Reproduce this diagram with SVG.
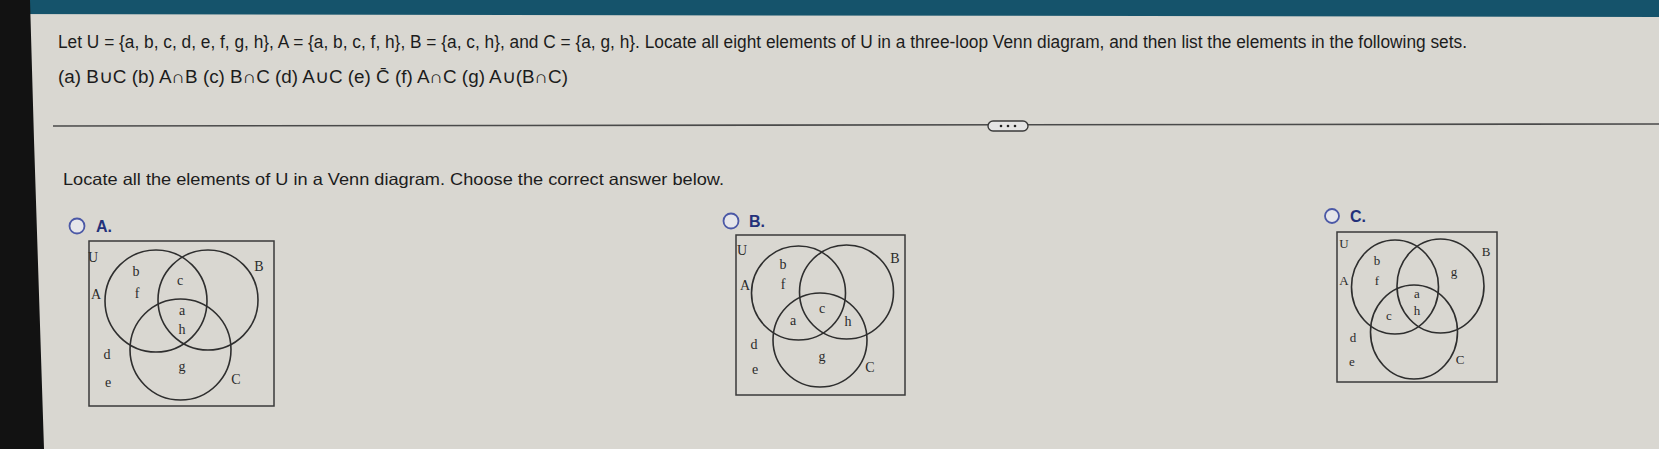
<svg xmlns="http://www.w3.org/2000/svg" width="1659" height="449" viewBox="0 0 1659 449">
<style>
.q{font-family:"Liberation Sans",Arial,sans-serif;fill:#1c1c1c}
.opt{font-family:"Liberation Sans",Arial,sans-serif;font-weight:bold;font-size:16px;fill:#24317a}
.radio{fill:#e6e6ea;stroke:#4b58a6;stroke-width:1.8}
.box{fill:none;stroke:#3a3a3a;stroke-width:1.5}
.loop{fill:none;stroke:#2e2e2e;stroke-width:1.6}
.lb{font-family:"Liberation Serif","Times New Roman",serif;font-size:14px;fill:#2a2a2a;text-anchor:middle}
.lc{font-family:"Liberation Serif","Times New Roman",serif;font-size:13px;fill:#2a2a2a;text-anchor:middle}
</style>
<rect x="0" y="0" width="1659" height="449" fill="#d9d7d1"/>
<polygon points="0,0 1659,0 1659,17 0,14" fill="#15536b"/>
<polygon points="0,0 30,0 34,140 44,449 0,449" fill="#121212"/>

<g id="question">
<text class="q" x="58" y="48" font-size="17.5" textLength="1409" lengthAdjust="spacingAndGlyphs">Let U = {a, b, c, d, e, f, g, h}, A = {a, b, c, f, h}, B = {a, c, h}, and C = {a, g, h}. Locate all eight elements of U in a three-loop Venn diagram, and then list the elements in the following sets.</text>
<text class="q" x="58" y="83" font-size="17.5" textLength="510" lengthAdjust="spacingAndGlyphs">(a) B∪C (b) A∩B (c) B∩C (d) A∪C (e) C̄ (f) A∩C (g) A∪(B∩C)</text>
</g>

<g id="divider">
<line x1="53" y1="126" x2="1659" y2="124" stroke="#4a4a4a" stroke-width="1.6"/>
<rect x="988" y="121" width="40" height="10" rx="5" fill="#e4e4e4" stroke="#3a3a3a" stroke-width="1.4"/>
<circle cx="1001" cy="126" r="1.3" fill="#222"/>
<circle cx="1008" cy="126" r="1.3" fill="#222"/>
<circle cx="1015" cy="126" r="1.3" fill="#222"/>
</g>

<g id="prompt">
<text class="q" x="63" y="185" font-size="16.5" textLength="661" lengthAdjust="spacingAndGlyphs">Locate all the elements of U in a Venn diagram. Choose the correct answer below.</text>
</g>

<g id="optionA">
<circle class="radio" cx="77" cy="226" r="7.5"/>
<text class="opt" x="96" y="232">A.</text>
<rect class="box" x="89" y="241" width="185" height="165"/>
<circle class="loop" cx="156" cy="301" r="51"/>
<circle class="loop" cx="208" cy="300" r="50"/>
<circle class="loop" cx="180.5" cy="349.5" r="50.5"/>
<text class="lb" x="93" y="262">U</text>
<text class="lb" x="96" y="299">A</text>
<text class="lb" x="259" y="271">B</text>
<text class="lb" x="236" y="384">C</text>
<text class="lb" x="136" y="276">b</text>
<text class="lb" x="137" y="298">f</text>
<text class="lb" x="180" y="285">c</text>
<text class="lb" x="182" y="315">a</text>
<text class="lb" x="182" y="334">h</text>
<text class="lb" x="107" y="359">d</text>
<text class="lb" x="108" y="387">e</text>
<text class="lb" x="182" y="371">g</text>
</g>

<g id="optionB">
<circle class="radio" cx="731" cy="221" r="7.5"/>
<text class="opt" x="749" y="227">B.</text>
<rect class="box" x="736" y="235" width="169" height="160"/>
<circle class="loop" cx="798.5" cy="293" r="47"/>
<circle class="loop" cx="846.5" cy="292" r="47"/>
<circle class="loop" cx="820" cy="340" r="47"/>
<text class="lb" x="742" y="255">U</text>
<text class="lb" x="745" y="290">A</text>
<text class="lb" x="895" y="263">B</text>
<text class="lb" x="870" y="372">C</text>
<text class="lb" x="783" y="269">b</text>
<text class="lb" x="783" y="289">f</text>
<text class="lb" x="793" y="325">a</text>
<text class="lb" x="822" y="313">c</text>
<text class="lb" x="848" y="326">h</text>
<text class="lb" x="754" y="349">d</text>
<text class="lb" x="755" y="374">e</text>
<text class="lb" x="822" y="361">g</text>
</g>

<g id="optionC">
<circle class="radio" cx="1332" cy="216" r="7"/>
<text class="opt" x="1350" y="222">C.</text>
<rect class="box" x="1337" y="232" width="160" height="150"/>
<ellipse class="loop" cx="1395" cy="287" rx="43.5" ry="47"/>
<ellipse class="loop" cx="1440.5" cy="286" rx="43.5" ry="47"/>
<ellipse class="loop" cx="1414" cy="332" rx="43.5" ry="47"/>
<text class="lc" x="1344" y="248">U</text>
<text class="lc" x="1344" y="285">A</text>
<text class="lc" x="1486" y="256">B</text>
<text class="lc" x="1460" y="364">C</text>
<text class="lc" x="1377" y="265">b</text>
<text class="lc" x="1377" y="285">f</text>
<text class="lc" x="1454" y="276">g</text>
<text class="lc" x="1417" y="298">a</text>
<text class="lc" x="1417" y="315">h</text>
<text class="lc" x="1389" y="320">c</text>
<text class="lc" x="1353" y="342">d</text>
<text class="lc" x="1352" y="366">e</text>
</g>
</svg>
